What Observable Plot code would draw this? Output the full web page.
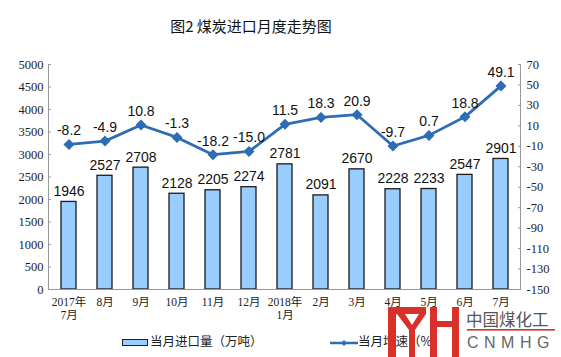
<!DOCTYPE html>
<html><head><meta charset="utf-8">
<script src="https://cdn.jsdelivr.net/npm/d3@7"></script>
<script src="https://cdn.jsdelivr.net/npm/@observablehq/plot@0.6"></script>
<style>
body{margin:0;background:#fff;}
#wrap{position:relative;width:561px;height:357px;overflow:hidden;font-family:"Noto Sans CJK SC",sans-serif;}
#title{position:absolute;left:0;width:502px;top:15px;text-align:center;font-size:15px;color:#111;}
.leg{position:absolute;top:331px;font-size:12.5px;color:#222;white-space:nowrap;}
#logo{position:absolute;left:0;top:0;}
</style></head>
<body><div id="wrap"><div id="chart"></div><div id="title">图2 煤炭进口月度走势图</div>
<div class="leg" style="left:122px"><span style="display:inline-block;width:24px;height:5px;background:#99ccff;border:1.5px solid #222;vertical-align:middle;margin-right:2px"></span>当月进口量（万吨）</div>
<div class="leg" style="left:330px"><svg width="28" height="10" style="vertical-align:middle"><line x1="0" y1="5" x2="28" y2="5" stroke="#2e6db4" stroke-width="2.5"/><path d="M14,2L17,5L14,8L11,5Z" fill="#2e6db4"/></svg>当月增速（%）</div>
</div>
<script>
const categories = ["2017年\n7月","8月","9月","10月","11月","12月","2018年\n1月","2月","3月","4月","5月","6月","7月"];
const imports = [1946,2527,2708,2128,2205,2274,2781,2091,2670,2228,2233,2547,2901];
const growth = [-8.2,-4.9,10.8,-1.3,-18.2,-15.0,11.5,18.3,20.9,-9.7,0.7,18.8,49.1];
const leftTicks = [0,500,1000,1500,2000,2500,3000,3500,4000,4500,5000];
const rightTicks = [-150,-130,-110,-90,-70,-50,-30,-10,10,30,50,70];

const toLeft = p => (p + 150) / 220 * 5000;
const data = categories.map((c,i)=>({c, v: imports[i], g: growth[i], gy: toLeft(growth[i])}));
const numFont = "Liberation Serif, Noto Sans CJK SC, serif";
const sansFont = "Liberation Sans, Arial, sans-serif";

const chart = Plot.plot({
  width: 561, height: 357,
  marginTop: 64, marginBottom: 68, marginLeft: 48, marginRight: 41,
  style: {fontFamily: numFont, fontSize: "12px", color: "#222", background: "#fff"},
  x: {domain: categories, paddingInner: 0.59, paddingOuter: 0.295, label: null},
  y: {domain: [0, 5000], label: null},
  marks: [
    Plot.barY(data, {x: "c", y: "v", fill: "#99ccff", stroke: "#1a1a1a", strokeWidth: 1.3}),
    Plot.ruleY([0], {stroke: "#999"}),
    Plot.frame({anchor: "left", stroke: "#999"}),
    Plot.frame({anchor: "right", stroke: "#999"}),
    Plot.axisY({ticks: leftTicks, tickFormat: d => String(d), tickSize: -3, tickPadding: 8, stroke: "#999", label: null, fontSize: 12.5, fontFamily: numFont}),
    Plot.axisY({anchor: "right", ticks: rightTicks.map(toLeft), tickFormat: d => String(Math.round(d/5000*220 - 150)), tickSize: -3, tickPadding: 9, stroke: "#999", label: null, fontSize: 12.5, fontFamily: numFont}),
    Plot.axisX({tickSize: 0, tickPadding: 8, fontSize: 11.5, label: null, fontFamily: numFont, lineHeight: 1.1}),
    Plot.text(data, {x: "c", y: "v", text: d => String(d.v), dy: -6, lineAnchor: "bottom", fontSize: 14, fontFamily: sansFont, fill: "#111"}),
    Plot.line(data, {x: "c", y: "gy", stroke: "#2e6db4", strokeWidth: 2.8}),
    Plot.dot(data, {x: "c", y: "gy", symbol: "diamond2", r: 4, fill: "#2e6db4", stroke: "#2e6db4"}),
    Plot.text(data, {x: "c", y: "gy", text: d => d.g.toFixed(1), dy: -9, lineAnchor: "bottom", fontSize: 14, fontFamily: sansFont, fill: "#111"})
  ]
});
document.getElementById("chart").appendChild(chart);

// watermark logo overlay
const ns = "http://www.w3.org/2000/svg";
const logo = document.createElementNS(ns, "svg");
logo.setAttribute("id","logo"); logo.setAttribute("width",561); logo.setAttribute("height",357);
logo.innerHTML = `
<rect x="388" y="307" width="8" height="50" fill="#d9302a"/>
<rect x="388" y="307" width="38" height="7" fill="#d9302a"/>
<path d="M397,314 L405,314 L412,325 L419,314 L426,314 L415,330 L415,357 L409,357 L409,330 Z" fill="#d9302a"/>
<rect x="430" y="307" width="7" height="50" fill="#d9302a"/>
<rect x="452" y="307" width="7" height="50" fill="#d9302a"/>
<rect x="437" y="321" width="15" height="6" fill="#d9302a"/>
<text x="466" y="326" font-size="16.5" fill="#555" font-family="Noto Sans CJK SC">中国煤化工</text>
<rect x="467" y="329" width="88" height="1.6" fill="#d9302a"/>
<text x="467" y="348" font-size="16" fill="#666" letter-spacing="5.5" font-family="Liberation Sans, Arial">CNMHG</text>`;
document.getElementById("wrap").appendChild(logo);
</script>
</body></html>
